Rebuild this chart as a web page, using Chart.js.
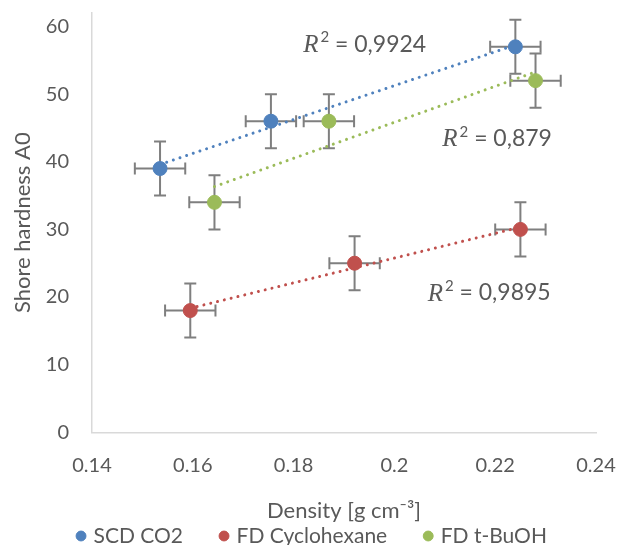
<!DOCTYPE html>
<html>
<head>
<meta charset="utf-8">
<title>Shore hardness vs density</title>
<script src="https://cdn.jsdelivr.net/npm/chart.js@4.4.1/dist/chart.umd.min.js"></script>
<style>
html, body { margin: 0; padding: 0; background: #fff; overflow: hidden; }
#wrap { width: 617px; height: 545px; position: relative; }
</style>
</head>
<body>
<div id="wrap"><canvas id="myChart"></canvas></div>
<script>
// aerogel samples: density [g cm-3] against Shore A0 hardness
const seriesNames = ["SCD CO2", "FD Cyclohexane", "FD t-BuOH"];
const seriesColors = ["#4F81BD", "#C0504D", "#9BBB59"];

const scdDensity = [0.1535, 0.1755, 0.224];
const scdHardness = [39, 46, 57];

const cycloDensity = [0.1595, 0.1921, 0.225];
const cycloHardness = [18, 25, 30];

const butanolDensity = [0.1643, 0.187, 0.228];
const butanolHardness = [34, 46, 52];

// error bars, same for every point
const densityErr = 0.005;
const hardnessErr = 4;

// R² shown next to each trendline
const rSquared = ["0,9924", "0,9895", "0,879"];
// where each R² label starts (density, hardness)
const rLabelAt = [[0.1819, 57.4], [0.2066, 20.6], [0.2095, 43.4]];

const xTickValues = [0.14, 0.16, 0.18, 0.2, 0.22, 0.24];
const xTickLabels = ["0.14", "0.16", "0.18", "0.2", "0.22", "0.24"];
const yTickValues = [0, 10, 20, 30, 40, 50, 60];

const textGrey = "#595959";
const axisGrey = "#D9D9D9";
const barGrey = "#7F7F7F";

const allDensity = [scdDensity, cycloDensity, butanolDensity];
const allHardness = [scdHardness, cycloHardness, butanolHardness];

// least squares line over the series' own density range
const trendline = (xs, ys) => {
    var n = xs.length;
    var mx = xs.reduce((a, b) => a + b, 0) / n;
    var my = ys.reduce((a, b) => a + b, 0) / n;
    var sxy = 0, sxx = 0;
    for (var i = 0; i < n; i++) {
        sxy += (xs[i] - mx) * (ys[i] - my);
        sxx += (xs[i] - mx) * (xs[i] - mx);
    }
    var slope = sxy / sxx;
    var x0 = Math.min(...xs), x1 = Math.max(...xs);
    return [
        { x: x0, y: my + slope * (x0 - mx) },
        { x: x1, y: my + slope * (x1 - mx) },
    ];
};

const datasets = [];

seriesNames.forEach((name, i) => {
    datasets.push({
        type: "scatter",
        label: name,
        data: allDensity[i].map((d, j) => ({ x: d, y: allHardness[i][j] })),
        backgroundColor: seriesColors[i],
        borderColor: seriesColors[i],
        pointRadius: 7,
        pointHoverRadius: 7,
        pointBorderWidth: 1,
        errorBars: true,
    });
});

seriesNames.forEach((name, i) => {
    datasets.push({
        type: "line",
        label: name + " trend",
        data: trendline(allDensity[i], allHardness[i]),
        borderColor: seriesColors[i],
        borderWidth: 3,
        borderDash: [0.01, 7],
        borderCapStyle: "round",
        pointRadius: 0,
        fill: false,
        isTrend: true,
    });
});

const errorBars = {
    id: "errorBars",
    beforeDatasetsDraw(chart) {
        var ctx = chart.ctx;
        var xs = chart.scales.x;
        var ys = chart.scales.y;
        var cap = 6;
        ctx.save();
        ctx.strokeStyle = barGrey;
        ctx.lineWidth = 2;
        chart.data.datasets.forEach((ds) => {
            if (!ds.errorBars) return;
            ds.data.forEach((p) => {
                var px = xs.getPixelForValue(p.x);
                var py = ys.getPixelForValue(p.y);
                var left = xs.getPixelForValue(p.x - densityErr);
                var right = xs.getPixelForValue(p.x + densityErr);
                var top = ys.getPixelForValue(p.y + hardnessErr);
                var bottom = ys.getPixelForValue(p.y - hardnessErr);
                ctx.beginPath();
                ctx.moveTo(left, py); ctx.lineTo(right, py);
                ctx.moveTo(left, py - cap); ctx.lineTo(left, py + cap);
                ctx.moveTo(right, py - cap); ctx.lineTo(right, py + cap);
                ctx.moveTo(px, top); ctx.lineTo(px, bottom);
                ctx.moveTo(px - cap, top); ctx.lineTo(px + cap, top);
                ctx.moveTo(px - cap, bottom); ctx.lineTo(px + cap, bottom);
                ctx.stroke();
            });
        });
        ctx.restore();
    },
};

const rSquaredLabels = {
    id: "rSquaredLabels",
    afterDatasetsDraw(chart) {
        var ctx = chart.ctx;
        var xs = chart.scales.x;
        var ys = chart.scales.y;
        ctx.save();
        ctx.fillStyle = textGrey;
        ctx.textBaseline = "middle";
        ctx.textAlign = "left";
        rSquared.forEach((txt, i) => {
            var x = xs.getPixelForValue(rLabelAt[i][0]);
            var y = ys.getPixelForValue(rLabelAt[i][1]);
            ctx.font = "italic 25px 'Liberation Serif'";
            ctx.fillText("R", x, y + 1);
            x += ctx.measureText("R").width + 2;
            ctx.font = "15px Lato";
            ctx.fillText("2", x, y - 7);
            x += ctx.measureText("2").width;
            ctx.font = "23px Lato";
            ctx.fillText(" = " + txt, x, y);
        });
        ctx.restore();
    },
};

const ctx = document.getElementById("myChart").getContext("2d");

const config = {
    type: "scatter",
    data: { datasets: datasets },
    options: {
        responsive: true,
        maintainAspectRatio: false,
        animation: false,
        layout: { padding: { top: 13, right: 21, left: 30, bottom: -11.5 } },
        plugins: {
            tooltip: { enabled: false },
            legend: {
                position: "bottom",
                labels: {
                    usePointStyle: true,
                    pointStyle: "circle",
                    boxWidth: 4,
                    boxHeight: 7,
                    padding: 39,
                    color: textGrey,
                    font: { family: "Lato", size: 21 },
                    filter: (item, data) => !data.datasets[item.datasetIndex].isTrend,
                },
            },
        },
        scales: {
            x: {
                type: "linear",
                min: 0.14,
                max: 0.24,
                grid: { display: false, drawTicks: false },
                border: { display: true, color: axisGrey, width: 1.5 },
                afterBuildTicks: (s) => { s.ticks = xTickValues.map((v) => ({ value: v })); },
                afterFit: (s) => {
                    s.paddingLeft = 0;
                    s.paddingRight = 0;
                },
                ticks: {
                    padding: 21,
                    color: textGrey,
                    font: { family: "Lato", size: 20 },
                    maxRotation: 0,
                    callback: (v, i) => xTickLabels[i],
                },
                title: {
                    display: true,
                    text: "Density [g cm⁻³]",
                    color: textGrey,
                    font: { family: "Lato", size: 22 },
                    padding: { top: -1, bottom: -37.2 },
                },
            },
            y: {
                type: "linear",
                min: 0,
                max: 62,
                grid: { display: false, drawTicks: false },
                border: { display: true, color: axisGrey, width: 1.5 },
                afterBuildTicks: (s) => { s.ticks = yTickValues.map((v) => ({ value: v })); },
                afterFit: (s) => {
                    s.width = 62;
                    s.paddingTop = 0;
                    s.paddingBottom = 0;
                },
                ticks: {
                    padding: 23,
                    color: textGrey,
                    font: { family: "Lato", size: 20 },
                },
                title: {
                    display: true,
                    text: "Shore hardness A0",
                    color: textGrey,
                    font: { family: "Lato", size: 22 },
                    padding: { top: -20, bottom: 0 },
                },
            },
        },
    },
    plugins: [errorBars, rSquaredLabels],
};

const myChart = new Chart(ctx, config);
</script>
</body>
</html>
